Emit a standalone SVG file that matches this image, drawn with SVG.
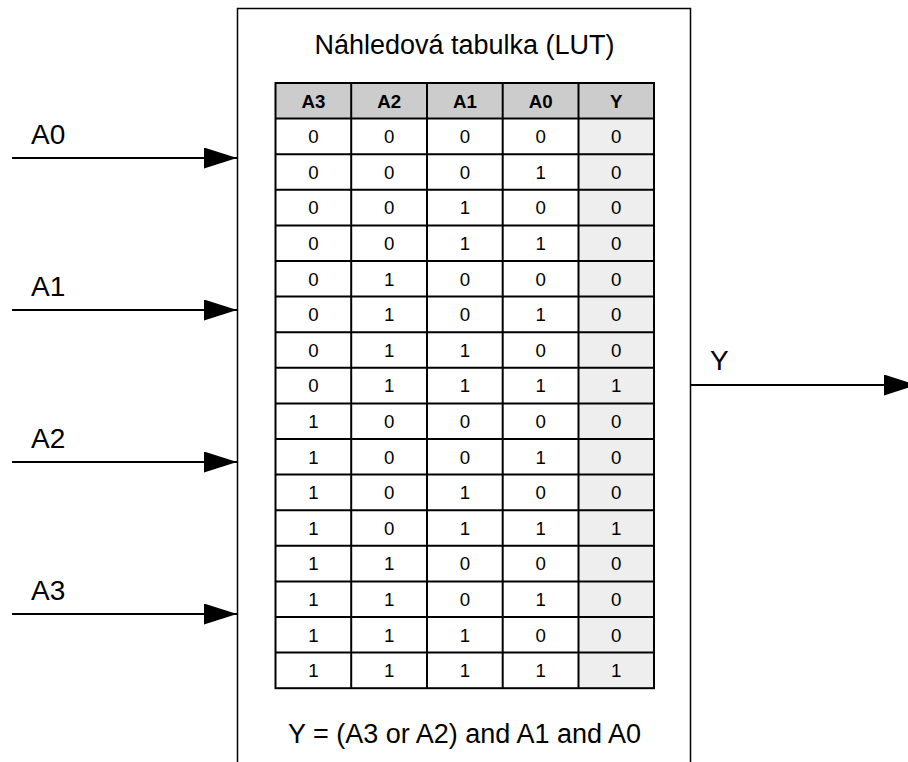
<svg xmlns="http://www.w3.org/2000/svg" width="908" height="762" viewBox="0 0 908 762">
<style>
.lbl{font-family:"Liberation Sans",Arial,sans-serif;font-size:27px;fill:#000}
.port{font-family:"Liberation Sans",Arial,sans-serif;font-size:28px;fill:#000}
.c{font-family:"Liberation Sans",Arial,sans-serif;font-size:18.7px;fill:#000;text-anchor:middle}
.h{font-weight:bold}
.wire{stroke:#000;stroke-width:2;fill:none}
.grid{stroke:#000;stroke-width:2;fill:none}
</style>
<defs>
<marker id="arr" markerWidth="33" markerHeight="21" refX="33" refY="10.5" orient="auto" markerUnits="userSpaceOnUse">
<path d="M0,0 L33,10.5 L0,21 Z" fill="#000"/>
</marker>
</defs>
<rect width="908" height="762" fill="#fff"/>
<g id="lut">
<rect x="237.5" y="8.5" width="453" height="770" fill="#fff" stroke="#000" stroke-width="1.5"/>
<text class="lbl" x="464.5" y="54" text-anchor="middle">Náhledová tabulka (LUT)</text>
<rect x="275.5" y="83" width="379" height="35.6" fill="#cccccc"/>
<rect x="579" y="118.6" width="75.5" height="569.6" fill="#eeeeee"/>
<g id="table-grid" class="grid">
<rect x="275.5" y="83" width="378.5" height="605.2"/>
<line x1="351.2" y1="83" x2="351.2" y2="688.2"/>
<line x1="427" y1="83" x2="427" y2="688.2"/>
<line x1="502.7" y1="83" x2="502.7" y2="688.2"/>
<line x1="578.5" y1="83" x2="578.5" y2="688.2"/>
<path d="M275.5 118.6H654M275.5 154.2H654M275.5 189.8H654M275.5 225.4H654M275.5 261H654M275.5 296.6H654M275.5 332.2H654M275.5 367.8H654M275.5 403.4H654M275.5 439H654M275.5 474.6H654M275.5 510.2H654M275.5 545.8H654M275.5 581.4H654M275.5 617H654M275.5 652.6H654"/>
</g>
<g id="table-text">
<text class="c h" x="313.4" y="107.6">A3</text><text class="c h" x="389.1" y="107.6">A2</text><text class="c h" x="464.9" y="107.6">A1</text><text class="c h" x="540.6" y="107.6">A0</text><text class="c h" x="616.3" y="107.6">Y</text>
<text class="c" x="313.4" y="143.2">0</text><text class="c" x="389.1" y="143.2">0</text><text class="c" x="464.9" y="143.2">0</text><text class="c" x="540.6" y="143.2">0</text><text class="c" x="616.3" y="143.2">0</text>
<text class="c" x="313.4" y="178.8">0</text><text class="c" x="389.1" y="178.8">0</text><text class="c" x="464.9" y="178.8">0</text><text class="c" x="540.6" y="178.8">1</text><text class="c" x="616.3" y="178.8">0</text>
<text class="c" x="313.4" y="214.4">0</text><text class="c" x="389.1" y="214.4">0</text><text class="c" x="464.9" y="214.4">1</text><text class="c" x="540.6" y="214.4">0</text><text class="c" x="616.3" y="214.4">0</text>
<text class="c" x="313.4" y="250">0</text><text class="c" x="389.1" y="250">0</text><text class="c" x="464.9" y="250">1</text><text class="c" x="540.6" y="250">1</text><text class="c" x="616.3" y="250">0</text>
<text class="c" x="313.4" y="285.6">0</text><text class="c" x="389.1" y="285.6">1</text><text class="c" x="464.9" y="285.6">0</text><text class="c" x="540.6" y="285.6">0</text><text class="c" x="616.3" y="285.6">0</text>
<text class="c" x="313.4" y="321.2">0</text><text class="c" x="389.1" y="321.2">1</text><text class="c" x="464.9" y="321.2">0</text><text class="c" x="540.6" y="321.2">1</text><text class="c" x="616.3" y="321.2">0</text>
<text class="c" x="313.4" y="356.8">0</text><text class="c" x="389.1" y="356.8">1</text><text class="c" x="464.9" y="356.8">1</text><text class="c" x="540.6" y="356.8">0</text><text class="c" x="616.3" y="356.8">0</text>
<text class="c" x="313.4" y="392.4">0</text><text class="c" x="389.1" y="392.4">1</text><text class="c" x="464.9" y="392.4">1</text><text class="c" x="540.6" y="392.4">1</text><text class="c" x="616.3" y="392.4">1</text>
<text class="c" x="313.4" y="428">1</text><text class="c" x="389.1" y="428">0</text><text class="c" x="464.9" y="428">0</text><text class="c" x="540.6" y="428">0</text><text class="c" x="616.3" y="428">0</text>
<text class="c" x="313.4" y="463.6">1</text><text class="c" x="389.1" y="463.6">0</text><text class="c" x="464.9" y="463.6">0</text><text class="c" x="540.6" y="463.6">1</text><text class="c" x="616.3" y="463.6">0</text>
<text class="c" x="313.4" y="499.2">1</text><text class="c" x="389.1" y="499.2">0</text><text class="c" x="464.9" y="499.2">1</text><text class="c" x="540.6" y="499.2">0</text><text class="c" x="616.3" y="499.2">0</text>
<text class="c" x="313.4" y="534.8">1</text><text class="c" x="389.1" y="534.8">0</text><text class="c" x="464.9" y="534.8">1</text><text class="c" x="540.6" y="534.8">1</text><text class="c" x="616.3" y="534.8">1</text>
<text class="c" x="313.4" y="570.4">1</text><text class="c" x="389.1" y="570.4">1</text><text class="c" x="464.9" y="570.4">0</text><text class="c" x="540.6" y="570.4">0</text><text class="c" x="616.3" y="570.4">0</text>
<text class="c" x="313.4" y="606">1</text><text class="c" x="389.1" y="606">1</text><text class="c" x="464.9" y="606">0</text><text class="c" x="540.6" y="606">1</text><text class="c" x="616.3" y="606">0</text>
<text class="c" x="313.4" y="641.6">1</text><text class="c" x="389.1" y="641.6">1</text><text class="c" x="464.9" y="641.6">1</text><text class="c" x="540.6" y="641.6">0</text><text class="c" x="616.3" y="641.6">0</text>
<text class="c" x="313.4" y="677.2">1</text><text class="c" x="389.1" y="677.2">1</text><text class="c" x="464.9" y="677.2">1</text><text class="c" x="540.6" y="677.2">1</text><text class="c" x="616.3" y="677.2">1</text>
</g>
<text class="lbl" x="464.5" y="743" text-anchor="middle">Y = (A3 or A2) and A1 and A0</text>
</g>
<g id="connectors">
<line class="wire" x1="12" y1="158" x2="237" y2="158" marker-end="url(#arr)"/>
<line class="wire" x1="12" y1="310" x2="237" y2="310" marker-end="url(#arr)"/>
<line class="wire" x1="12" y1="462" x2="237" y2="462" marker-end="url(#arr)"/>
<line class="wire" x1="12" y1="614" x2="237" y2="614" marker-end="url(#arr)"/>
<line class="wire" x1="691" y1="385" x2="917" y2="385" marker-end="url(#arr)"/>
</g>
<g id="labels">
<text class="port" x="31" y="143.5">A0</text>
<text class="port" x="31" y="295.5">A1</text>
<text class="port" x="31" y="447.5">A2</text>
<text class="port" x="31" y="599.5">A3</text>
<text class="port" x="710" y="370">Y</text>
</g>
</svg>
